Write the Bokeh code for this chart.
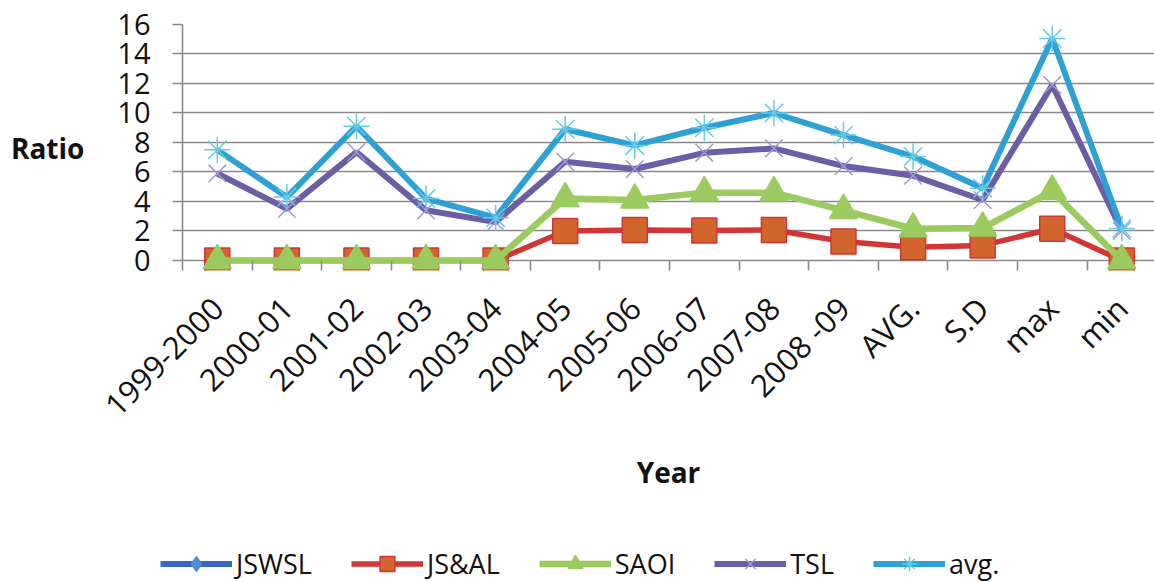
import math
from bokeh.plotting import figure
from bokeh.layouts import column
from bokeh.models import Legend, LegendItem, FixedTicker, Range1d
from bokeh.embed import file_html
from bokeh.resources import INLINE

nan = float("nan")

categories = ["1999-2000", "2000-01", "2001-02", "2002-03", "2003-04", "2004-05",
              "2005-06", "2006-07", "2007-08", "2008 -09", "AVG.", "S.D", "max", "min"]
y_ticks = [0, 2, 4, 6, 8, 10, 12, 14, 16]

jswsl = [nan] * 14
jsal = [0, 0, 0, 0, 0, 2.0, 2.07, 2.03, 2.07, 1.29, 0.9, 1.02, 2.15, 0]
saoi = [0, 0, 0, 0, 0, 4.2, 4.1, 4.6, 4.6, 3.4, 2.15, 2.2, 4.7, 0]
tsl = [5.9, 3.5, 7.35, 3.4, 2.6, 6.7, 6.2, 7.3, 7.6, 6.4, 5.75, 4.1, 11.9, 2.0]
avg = [7.5, 4.3, 9.1, 4.2, 2.9, 8.9, 7.8, 9.0, 10.0, 8.5, 7.05, 4.9, 15.05, 2.17]

series = [
    # name, values, line colour, marker, marker fill, marker outline, line width, marker size
    ("JSWSL", jswsl, "#3A66C4", "diamond", "#4F8FD8", "#4F8FD8", 6, 22),
    ("JS&AL", jsal, "#D23535", "square", "#D2652D", "#D23535", 5.5, 25),
    ("SAOI", saoi, "#9BCB5F", "triangle", "#9BCB5F", "#9BCB5F", 6.5, 28),
    ("TSL", tsl, "#6C5DA5", "x", None, "#A397D6", 6, 25),
    ("avg.", avg, "#2FA0D4", "asterisk", None, "#62CBE6", 6, 26),
]

xs = [i + 0.5 for i in range(len(categories))]

FONT = "Open Sans"
GRID = "#8a8a8a"
TEXT = "#111111"


def add_series(fig, name, vals, lc, mk, mfill, mline, lw, ms):
    rl = fig.line(xs, vals, line_color=lc, line_width=lw)
    if mfill is None:
        rm = fig.scatter(xs, vals, marker=mk, size=ms, line_color=mline, line_width=1.5)
    else:
        rm = fig.scatter(xs, vals, marker=mk, size=ms, fill_color=mfill, line_color=mline,
                         line_width=1.5)
    return rl, rm


p = figure(width=1154, height=536, x_range=Range1d(0, 13.97), y_range=Range1d(-0.68, 16),
           output_backend="svg", toolbar_location=None,
           min_border_left=182, min_border_right=0, min_border_top=24, min_border_bottom=266)
p.outline_line_color = None
p.frame_align = False

# horizontal gridlines only
p.xgrid.visible = False
p.ygrid.ticker = FixedTicker(ticks=y_ticks)
p.ygrid.grid_line_color = GRID
p.ygrid.grid_line_width = 1.6

# value axis
ya = p.yaxis[0]
ya.ticker = FixedTicker(ticks=y_ticks)
ya.axis_line_color = GRID
ya.axis_line_width = 1.6
ya.major_tick_line_color = GRID
ya.major_tick_line_width = 1.6
ya.major_tick_out = 10
ya.major_tick_in = 0
ya.minor_tick_line_color = None
ya.major_label_standoff = 22
ya.major_label_text_font = FONT
ya.major_label_text_font_size = "29px"
ya.major_label_text_color = TEXT
ya.axis_label = "Ratio"
ya.axis_label_text_font = FONT
ya.axis_label_text_font_style = "bold"
ya.axis_label_text_font_size = "28px"
ya.axis_label_text_color = TEXT
ya.axis_label_standoff = 30
ya.axis_label_orientation = "horizontal"

# category axis: labels at centres, tick marks at category boundaries
xa = p.xaxis[0]
xa.ticker = FixedTicker(ticks=xs, minor_ticks=list(range(1, 14)))
xa.major_label_overrides = {x: c for x, c in zip(xs, categories)}
xa.axis_line_color = None
xa.major_tick_line_color = None
xa.major_tick_in = 0
xa.major_tick_out = 0
xa.minor_tick_line_color = GRID
xa.minor_tick_line_width = 1.6
xa.minor_tick_in = 10
xa.minor_tick_out = 0
xa.major_label_orientation = math.pi / 4
xa.major_label_standoff = 32
xa.major_label_text_font = FONT
xa.major_label_text_font_size = "31px"
xa.major_label_text_color = TEXT
xa.axis_label = "Year"
xa.axis_label_text_font = FONT
xa.axis_label_text_font_style = "bold"
xa.axis_label_text_font_size = "28px"
xa.axis_label_text_color = TEXT
xa.axis_label_standoff = 10

for s in series:
    add_series(p, *s)

# legend strip underneath the chart; its own copies of the series sit outside its view
lg = figure(width=1154, height=46, x_range=Range1d(0, 1), y_range=Range1d(100, 101),
            output_backend="svg", toolbar_location=None,
            x_axis_location=None, y_axis_location=None,
            min_border_left=0, min_border_right=0, min_border_top=0, min_border_bottom=0)
lg.outline_line_color = None
lg.grid.visible = False
lg.frame_align = False
items = []
for s in series:
    rl, rm = add_series(lg, *s)
    items.append(LegendItem(label=s[0], renderers=[rl, rm]))

legend = Legend(items=items, orientation="horizontal", location=(160, 0))
legend.label_text_font = FONT
legend.label_text_font_size = "27px"
legend.label_text_color = TEXT
legend.glyph_width = 72
legend.glyph_height = 37
legend.label_standoff = 4
legend.spacing = 39
legend.padding = 0
legend.margin = 0
legend.border_line_color = None
legend.background_fill_alpha = 0
lg.add_layout(legend, "center")

open("out.html", "w").write(file_html(column(p, lg, spacing=0), INLINE))
